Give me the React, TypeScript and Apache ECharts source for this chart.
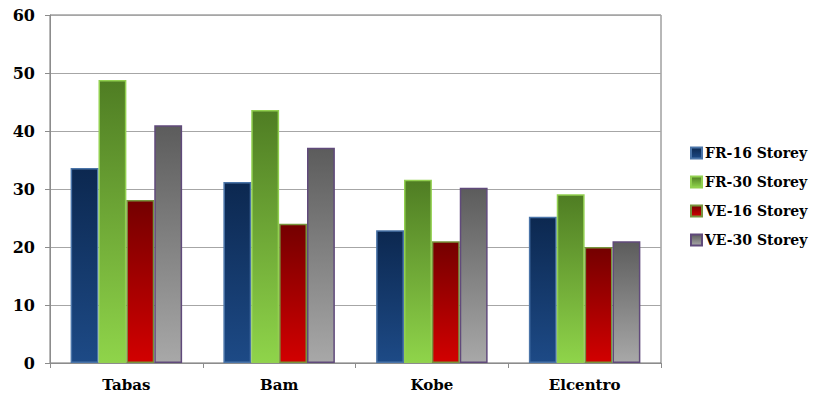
import React, { useEffect, useRef } from "react";
import * as echarts from "echarts";

const categories = ["Tabas", "Bam", "Kobe", "Elcentro"];
const seriesNames = ["FR-16 Storey", "FR-30 Storey", "VE-16 Storey", "VE-30 Storey"];
const fr16 = [33.6, 31.2, 22.9, 25.2];
const fr30 = [48.8, 43.6, 31.6, 29.1];
const ve16 = [28.1, 24.0, 21.0, 20.0];
const ve30 = [41.0, 37.1, 30.2, 21.0];
const yTicks = [0, 10, 20, 30, 40, 50, 60];

const FONT = "DejaVu Serif";

const grad = (top: string, bottom: string) =>
  new echarts.graphic.LinearGradient(0, 0, 0, 1, [
    { offset: 0, color: top },
    { offset: 1, color: bottom },
  ]);

const styles = [
  { top: "#0c2850", bottom: "#1d4a86", border: "#4a74a8" },
  { top: "#4f7d23", bottom: "#8fd44a", border: "#92d050" },
  { top: "#740000", bottom: "#d20000", border: "#77933c" },
  { top: "#5c5c5c", bottom: "#a8a8a8", border: "#604a7b" },
];

export default function App() {
  const ref = useRef<HTMLDivElement>(null);

  useEffect(() => {
    if (!ref.current) return;
    document.body.style.margin = "0";
    const chart = echarts.init(ref.current, null, { renderer: "svg" });
    const values = [fr16, fr30, ve16, ve30];
    chart.setOption({
      animation: false,
      backgroundColor: "#ffffff",
      grid: {
        left: 50,
        right: 155,
        top: 15,
        bottom: 32,
        show: true,
        borderColor: "#707070",
        borderWidth: 1,
      },
      legend: {
        orient: "vertical",
        left: 685,
        top: 141,
        itemWidth: 11,
        itemHeight: 11,
        itemGap: 15,
        icon: "rect",
        data: seriesNames,
        textStyle: {
          fontFamily: FONT,
          fontWeight: "bold",
          fontSize: 14,
          color: "#000000",
          padding: [0, 0, 0, -2],
        },
      },
      xAxis: {
        type: "category",
        data: categories,
        axisLine: { lineStyle: { color: "#8c8c8c", width: 1 } },
        axisTick: { show: true, length: 5, lineStyle: { color: "#8c8c8c" } },
        axisLabel: {
          fontFamily: FONT,
          fontWeight: "bold",
          fontSize: 15,
          color: "#000000",
          margin: 14,
        },
      },
      yAxis: {
        type: "value",
        min: yTicks[0],
        max: yTicks[yTicks.length - 1],
        interval: 10,
        axisLine: { show: true, lineStyle: { color: "#8c8c8c" } },
        axisTick: { show: true, length: 5, lineStyle: { color: "#8c8c8c" } },
        splitLine: { lineStyle: { color: "#a6a6a6", width: 1 } },
        axisLabel: {
          fontFamily: FONT,
          fontWeight: "bold",
          fontSize: 16,
          color: "#000000",
          margin: 15,
        },
      },
      series: seriesNames.map((name, i) => ({
        name,
        type: "bar",
        data: values[i],
        barGap: "0%",
        barCategoryGap: "27%",
        itemStyle: {
          color: grad(styles[i].top, styles[i].bottom),
          borderColor: styles[i].border,
          borderWidth: 1.5,
        },
      })),
    });
    return () => chart.dispose();
  }, []);

  return <div ref={ref} style={{ width: 816, height: 395 }} />;
}
